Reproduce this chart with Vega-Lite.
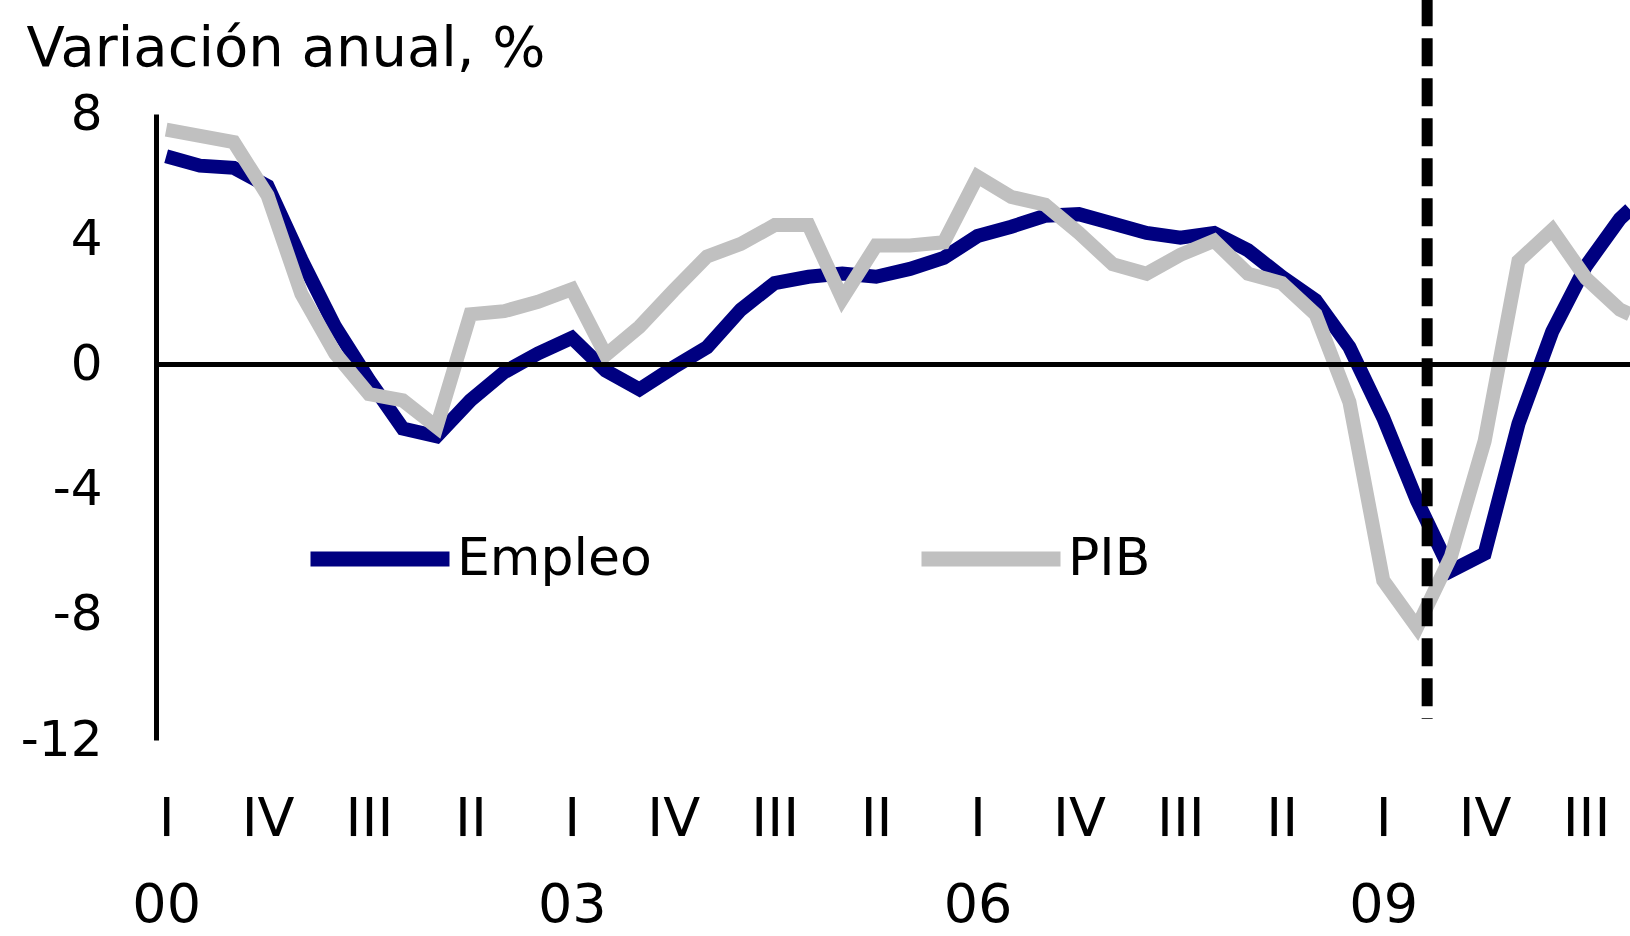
{
  "$schema": "https://vega.github.io/schema/vega-lite/v6.json",
  "width": 1474,
  "height": 626,
  "autosize": {"type": "none"},
  "padding": {"left": 156, "top": 114, "right": 0, "bottom": 196},
  "background": "white",
  "config": {"view": {"stroke": null}, "font": "DejaVu Sans"},
  "datasets": {
    "series": [
      {"t": 0, "serie": "Empleo", "valor": 6.65}, {"t": 1, "serie": "Empleo", "valor": 6.35},
      {"t": 2, "serie": "Empleo", "valor": 6.28}, {"t": 3, "serie": "Empleo", "valor": 5.7},
      {"t": 4, "serie": "Empleo", "valor": 3.35}, {"t": 5, "serie": "Empleo", "valor": 1.2},
      {"t": 6, "serie": "Empleo", "valor": -0.5}, {"t": 7, "serie": "Empleo", "valor": -2.05},
      {"t": 8, "serie": "Empleo", "valor": -2.3}, {"t": 9, "serie": "Empleo", "valor": -1.15},
      {"t": 10, "serie": "Empleo", "valor": -0.25}, {"t": 11, "serie": "Empleo", "valor": 0.35},
      {"t": 12, "serie": "Empleo", "valor": 0.85}, {"t": 13, "serie": "Empleo", "valor": -0.2},
      {"t": 14, "serie": "Empleo", "valor": -0.8}, {"t": 15, "serie": "Empleo", "valor": -0.1},
      {"t": 16, "serie": "Empleo", "valor": 0.55}, {"t": 17, "serie": "Empleo", "valor": 1.75},
      {"t": 18, "serie": "Empleo", "valor": 2.6}, {"t": 19, "serie": "Empleo", "valor": 2.8},
      {"t": 20, "serie": "Empleo", "valor": 2.9}, {"t": 21, "serie": "Empleo", "valor": 2.8},
      {"t": 22, "serie": "Empleo", "valor": 3.05}, {"t": 23, "serie": "Empleo", "valor": 3.4},
      {"t": 24, "serie": "Empleo", "valor": 4.1}, {"t": 25, "serie": "Empleo", "valor": 4.4},
      {"t": 26, "serie": "Empleo", "valor": 4.75}, {"t": 27, "serie": "Empleo", "valor": 4.8},
      {"t": 28, "serie": "Empleo", "valor": 4.5}, {"t": 29, "serie": "Empleo", "valor": 4.2},
      {"t": 30, "serie": "Empleo", "valor": 4.05}, {"t": 31, "serie": "Empleo", "valor": 4.2},
      {"t": 32, "serie": "Empleo", "valor": 3.65}, {"t": 33, "serie": "Empleo", "valor": 2.8},
      {"t": 34, "serie": "Empleo", "valor": 2.05}, {"t": 35, "serie": "Empleo", "valor": 0.55},
      {"t": 36, "serie": "Empleo", "valor": -1.7}, {"t": 37, "serie": "Empleo", "valor": -4.35},
      {"t": 38, "serie": "Empleo", "valor": -6.6}, {"t": 39, "serie": "Empleo", "valor": -6.05},
      {"t": 40, "serie": "Empleo", "valor": -1.9}, {"t": 41, "serie": "Empleo", "valor": 1.05},
      {"t": 42, "serie": "Empleo", "valor": 3.15}, {"t": 43, "serie": "Empleo", "valor": 4.65},
      {"t": 43.3, "serie": "Empleo", "valor": 4.95},
      {"t": 0, "serie": "PIB", "valor": 7.5}, {"t": 1, "serie": "PIB", "valor": 7.3},
      {"t": 2, "serie": "PIB", "valor": 7.1}, {"t": 3, "serie": "PIB", "valor": 5.4},
      {"t": 4, "serie": "PIB", "valor": 2.25}, {"t": 5, "serie": "PIB", "valor": 0.35},
      {"t": 6, "serie": "PIB", "valor": -0.95}, {"t": 7, "serie": "PIB", "valor": -1.15},
      {"t": 8, "serie": "PIB", "valor": -2.0}, {"t": 9, "serie": "PIB", "valor": 1.6},
      {"t": 10, "serie": "PIB", "valor": 1.7}, {"t": 11, "serie": "PIB", "valor": 2.0},
      {"t": 12, "serie": "PIB", "valor": 2.4}, {"t": 13, "serie": "PIB", "valor": 0.3},
      {"t": 14, "serie": "PIB", "valor": 1.2}, {"t": 15, "serie": "PIB", "valor": 2.35},
      {"t": 16, "serie": "PIB", "valor": 3.45}, {"t": 17, "serie": "PIB", "valor": 3.85},
      {"t": 18, "serie": "PIB", "valor": 4.45}, {"t": 19, "serie": "PIB", "valor": 4.45},
      {"t": 20, "serie": "PIB", "valor": 2.1}, {"t": 21, "serie": "PIB", "valor": 3.8},
      {"t": 22, "serie": "PIB", "valor": 3.8}, {"t": 23, "serie": "PIB", "valor": 3.9},
      {"t": 24, "serie": "PIB", "valor": 6.0}, {"t": 25, "serie": "PIB", "valor": 5.35},
      {"t": 26, "serie": "PIB", "valor": 5.1}, {"t": 27, "serie": "PIB", "valor": 4.2},
      {"t": 28, "serie": "PIB", "valor": 3.2}, {"t": 29, "serie": "PIB", "valor": 2.9},
      {"t": 30, "serie": "PIB", "valor": 3.5}, {"t": 31, "serie": "PIB", "valor": 3.95},
      {"t": 32, "serie": "PIB", "valor": 2.9}, {"t": 33, "serie": "PIB", "valor": 2.6},
      {"t": 34, "serie": "PIB", "valor": 1.6}, {"t": 35, "serie": "PIB", "valor": -1.2},
      {"t": 36, "serie": "PIB", "valor": -6.9}, {"t": 37, "serie": "PIB", "valor": -8.4},
      {"t": 38, "serie": "PIB", "valor": -6.15}, {"t": 39, "serie": "PIB", "valor": -2.45},
      {"t": 40, "serie": "PIB", "valor": 3.3}, {"t": 41, "serie": "PIB", "valor": 4.3},
      {"t": 42, "serie": "PIB", "valor": 2.75}, {"t": 43, "serie": "PIB", "valor": 1.75},
      {"t": 43.3, "serie": "PIB", "valor": 1.6}
    ],
    "marcas": [{"id": "cero", "y": 0}, {"id": "corte", "x": 37.3, "ytop": 11.7, "ybot": -11.33}]
  },
  "layer": [
    {
      "data": {"name": "series"},
      "mark": {"type": "line", "strokeWidth": 14, "clip": true},
      "encoding": {
        "x": {
          "field": "t", "type": "quantitative",
          "scale": {"domain": [-0.3, 43.3], "nice": false, "zero": false},
          "axis": {
            "values": [0, 3, 6, 9, 12, 15, 18, 21, 24, 27, 30, 33, 36, 39, 42],
            "labelExpr": "datum.value % 4 == 0 ? [['I','II','III','IV'][datum.value % 4], '0' + floor(datum.value / 4)] : ['I','II','III','IV'][datum.value % 4]",
            "domain": false, "ticks": false, "grid": false,
            "labelFont": "DejaVu Sans", "labelFontSize": 54, "labelColor": "black",
            "labelPadding": 52, "labelLineHeight": 86,
            "labelFlush": false, "labelOverlap": false, "labelBound": false,
            "title": null
          }
        },
        "y": {
          "field": "valor", "type": "quantitative",
          "scale": {"domain": [-12, 8], "nice": false, "zero": false},
          "axis": {
            "values": [-12, -8, -4, 0, 4, 8],
            "labelExpr": "datum.value < 0 ? '-' + abs(datum.value) : '' + datum.value",
            "domain": true, "domainColor": "black", "domainWidth": 5,
            "ticks": false, "grid": false,
            "labelFont": "DejaVu Sans", "labelFontSize": 50, "labelColor": "black",
            "labelPadding": 54,
            "title": "Variación anual, %",
            "titleAngle": 0, "titleX": -130, "titleY": -49,
            "titleAlign": "left", "titleBaseline": "alphabetic",
            "titleFont": "DejaVu Sans", "titleFontSize": 56, "titleFontWeight": "normal",
            "titleColor": "black"
          }
        },
        "color": {
          "field": "serie", "type": "nominal",
          "scale": {"domain": ["Empleo", "PIB"], "range": ["#000080", "#C0C0C0"]},
          "legend": {
            "title": null, "orient": "none", "legendX": 147, "legendY": 368,
            "direction": "horizontal", "symbolType": "stroke", "symbolSize": 19321,
            "symbolStrokeWidth": 15, "labelFont": "DejaVu Sans", "labelFontSize": 52,
            "labelColor": "black", "labelOffset": 0, "columnPadding": 239,
            "padding": 0, "labelLimit": 0
          }
        }
      }
    },
    {
      "data": {"name": "marcas"},
      "transform": [{"filter": "datum.id == 'cero'"}],
      "mark": {"type": "rule", "color": "black", "strokeWidth": 5},
      "encoding": {"y": {"field": "y", "type": "quantitative"}}
    },
    {
      "data": {"name": "marcas"},
      "transform": [{"filter": "datum.id == 'corte'"}],
      "mark": {"type": "rule", "color": "black", "strokeWidth": 11, "strokeDash": [28, 12], "clip": false},
      "encoding": {
        "x": {"field": "x", "type": "quantitative"},
        "y": {"field": "ytop", "type": "quantitative"},
        "y2": {"field": "ybot"}
      }
    }
  ]
}
